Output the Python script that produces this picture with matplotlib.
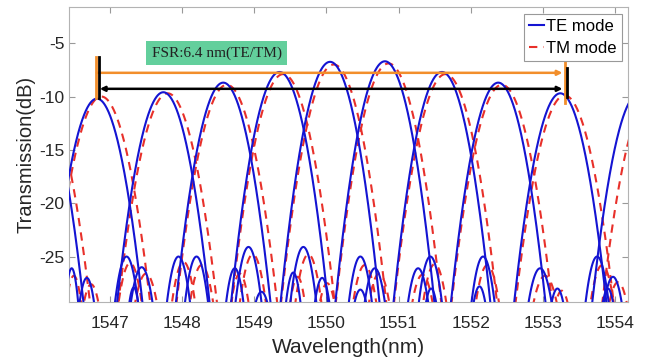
import numpy as np
import matplotlib
matplotlib.use("Agg")
import matplotlib.pyplot as plt

# -----------------------------
# Data
# -----------------------------
# main channel peaks (nm, dB)
te_center = [1546.00, 1546.82, 1547.74, 1548.57, 1549.35, 1550.05,
             1550.81, 1551.60, 1552.38, 1553.24, 1554.32]
te_peak = [-10.0, -10.2, -9.6, -8.7, -7.7, -6.75, -6.7, -7.7, -8.7, -9.7, -9.8]

tm_center = [1546.05, 1546.88, 1547.80, 1548.62, 1549.40, 1550.10,
             1550.86, 1551.65, 1552.43, 1553.30, 1554.50]
tm_peak = [-10.2, -10.0, -9.7, -8.9, -7.9, -7.0, -6.9, -7.9, -8.9, -9.9, -10.0]

# lobe curvature (dB/nm^2)
te_curv = 48.0
tm_curv = 42.0

# crosstalk side lobes: centre, peak, half width at floor
te_side_c = [1546.47, 1546.68, 1547.23, 1547.44, 1547.33, 1547.95, 1548.20,
             1548.73, 1548.92, 1549.10, 1549.54, 1549.68, 1549.94, 1550.47,
             1550.67, 1550.47, 1551.27, 1551.44, 1551.45, 1552.17, 1552.12,
             1552.96, 1553.20, 1553.75, 1553.97, 1553.90]
te_side_p = [-26.1, -27.0, -25.0, -26.0, -27.9, -25.0, -25.0,
             -26.1, -24.1, -28.3, -26.5, -24.1, -27.0, -25.0,
             -26.1, -28.1, -26.1, -25.0, -28.0, -25.0, -27.8,
             -26.1, -28.0, -25.0, -26.9, -28.0]
te_side_w = [0.09, 0.10, 0.16, 0.15, 0.06, 0.16, 0.16,
             0.12, 0.18, 0.08, 0.10, 0.18, 0.10, 0.16,
             0.14, 0.08, 0.14, 0.16, 0.07, 0.16, 0.08,
             0.16, 0.08, 0.16, 0.12, 0.07]

tm_side_c = [1546.50, 1546.74, 1547.28, 1547.50, 1548.02, 1548.27, 1548.80,
             1548.98, 1549.60, 1549.75, 1550.01, 1550.53, 1550.73, 1551.33,
             1551.50, 1552.23, 1553.03, 1553.26, 1553.82, 1554.04]
tm_side_p = [-26.8, -27.6, -25.6, -26.6, -25.5, -25.8, -26.6,
             -24.8, -26.9, -24.8, -27.5, -25.8, -26.6, -26.7,
             -25.7, -25.8, -26.8, -28.2, -25.8, -27.4]
tm_side_w = [0.10, 0.10, 0.16, 0.15, 0.16, 0.16, 0.12,
             0.18, 0.10, 0.18, 0.10, 0.16, 0.14, 0.14,
             0.16, 0.16, 0.16, 0.08, 0.16, 0.12]

floor_db = -29.3

xticks = [1547, 1548, 1549, 1550, 1551, 1552, 1553, 1554]
yticks = [-25, -20, -15, -10, -5]

# FSR markers
fsr_left = 1546.82
fsr_right = 1553.32
fsr_te_y = -9.28
fsr_tm_y = -7.78

TE_COLOR = "#1414d2"
TM_COLOR = "#e8302a"
ORANGE = "#f28e2b"

plt.rcParams["font.family"] = ["Liberation Sans", "DejaVu Sans"]
plt.rcParams["axes.unicode_minus"] = False

fig = plt.figure(figsize=(6.55, 3.62), dpi=100)
ax = fig.add_axes([0.105, 0.166, 0.854, 0.815])


def main_lobe(c, p, k):
    x = np.linspace(c - 0.9, c + 0.9, 400)
    return x, p - k * (x - c) ** 2


def side_lobe(c, p, w):
    x = np.linspace(c - 1.3 * w, c + 1.3 * w, 120)
    k = (p - floor_db) / w ** 2
    return x, p - k * (x - c) ** 2


# ---- TE ----
for i, (c, p) in enumerate(zip(te_center, te_peak)):
    x, y = main_lobe(c, p, te_curv)
    ax.plot(x, y, color=TE_COLOR, lw=1.5, label="TE mode" if i == 0 else None,
            zorder=3)
for c, p, w in zip(te_side_c, te_side_p, te_side_w):
    x, y = side_lobe(c, p, w)
    ax.plot(x, y, color=TE_COLOR, lw=1.5, zorder=3)

# ---- TM ----
for i, (c, p) in enumerate(zip(tm_center, tm_peak)):
    x, y = main_lobe(c, p, tm_curv)
    ax.plot(x, y, color=TM_COLOR, lw=1.5, ls=(0, (4, 3)),
            label="TM mode" if i == 0 else None, zorder=2)
for c, p, w in zip(tm_side_c, tm_side_p, tm_side_w):
    x, y = side_lobe(c, p, w)
    ax.plot(x, y, color=TM_COLOR, lw=1.5, ls=(0, (4, 3)), zorder=2)

# ---- FSR markers ----
ax.annotate("", xy=(fsr_right - 0.05, fsr_tm_y), xytext=(fsr_left, fsr_tm_y),
            arrowprops=dict(arrowstyle="-|>", color=ORANGE, lw=1.8,
                            mutation_scale=7, shrinkA=0, shrinkB=0), zorder=4)
ax.annotate("", xy=(fsr_right - 0.05, fsr_te_y), xytext=(fsr_left + 0.04, fsr_te_y),
            arrowprops=dict(arrowstyle="<|-|>", color="black", lw=1.8,
                            mutation_scale=7, shrinkA=0, shrinkB=0), zorder=4)
ax.plot([fsr_left - 0.01, fsr_left - 0.01], [-6.3, -10.1], color=ORANGE, lw=2, zorder=4)
ax.plot([fsr_left + 0.03, fsr_left + 0.03], [-6.3, -10.1], color="black", lw=2, zorder=5)
ax.plot([fsr_right - 0.01, fsr_right - 0.01], [-6.75, -10.6], color=ORANGE, lw=2, zorder=4)
ax.plot([fsr_right + 0.01, fsr_right + 0.01], [-7.3, -10.0], color="black", lw=2, zorder=5)

ax.text(1548.48, -5.9, "FSR:6.4 nm(TE/TM)", family="Liberation Serif",
        fontsize=11, color="#222222", ha="center", va="center", zorder=6,
        bbox=dict(boxstyle="square,pad=0.35", fc="#63cf9c", ec="none"))

# ---- axes ----
ax.set_xlim(1546.43, 1554.18)
ax.set_ylim(-29.25, -1.6)
ax.set_xticks(xticks)
ax.set_yticks(yticks)
ax.tick_params(direction="in", top=True, right=True, length=4,
               labelsize=12.5, color="#999999", labelcolor="#262626")
ax.tick_params(axis="x", pad=10)
ax.tick_params(axis="y", pad=3)
for s in ax.spines.values():
    s.set_color("#b3b3b3")
    s.set_linewidth(0.8)
ax.set_xlabel("Wavelength(nm)", fontsize=15, color="#262626", labelpad=5)
ax.set_ylabel("Transmission(dB)", fontsize=14.5, color="#262626", labelpad=3)

leg = ax.legend(loc="upper right", bbox_to_anchor=(0.989, 0.975), fontsize=12,
                handlelength=0.9, handletextpad=0.15, borderpad=0.3,
                labelspacing=0.4, borderaxespad=0.0, fancybox=False,
                framealpha=1)
leg.get_frame().set_edgecolor("#999999")
leg.get_frame().set_linewidth(0.8)

fig.savefig("out.png", dpi=100)
